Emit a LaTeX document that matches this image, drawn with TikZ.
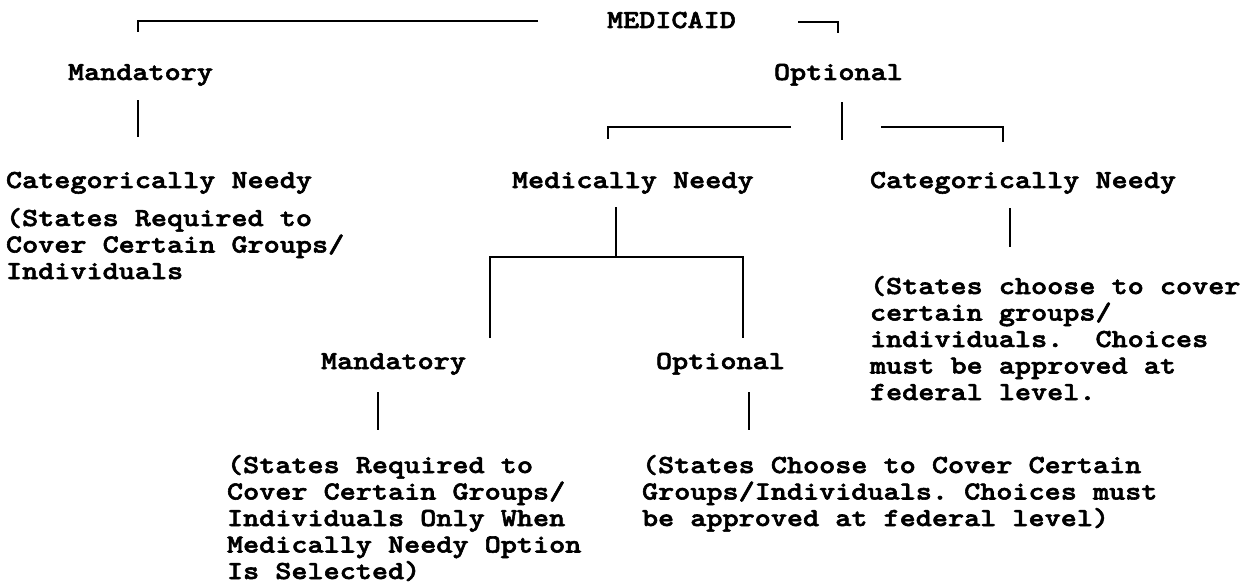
\documentclass[tikz,border=0pt]{standalone}
\usepackage{fontspec}
\newfontfamily\courfont[FakeStretch=1.18,FakeBold=2.2]{lmmonolt10-bold.otf}
\frenchspacing
\tikzset{
  lbl/.style={anchor=base west, inner sep=0pt, outer sep=0pt,
    font=\courfont\fontsize{26pt}{26.5pt}\selectfont},
  conn/.style={line width=2.2pt, line cap=butt, line join=miter},
}
\begin{document}
\begin{tikzpicture}[x=1pt,y=-1pt]
\fill[white] (0,0) rectangle (1253,586);
\useasboundingbox (0,0) rectangle (1253,586);

% text nodes
\node[lbl] (medicaid) at (607,28) {MEDICAID};
\node[lbl] (mand1) at (68,80) {Mandatory};
\node[lbl] (opt1) at (774,80) {Optional};
\node[lbl] (catL) at (6,188) {Categorically Needy};
\node[lbl] (medN) at (512,188) {Medically Needy};
\node[lbl] (catR) at (870,188) {Categorically Needy};
\node[lbl] (reqL) at (6,226) {\vtop{\hbox{(States Required to}\hbox{Cover Certain Groups/}\hbox{Individuals}}};
\node[lbl] (choR) at (870,294) {\vtop{\hbox{(States choose to cover}\hbox{certain groups/}\hbox{individuals.\ \ Choices}\hbox{must be approved at}\hbox{federal level.}}};
\node[lbl] (mand2) at (321,369) {Mandatory};
\node[lbl] (opt2) at (656,369) {Optional};
\node[lbl] (reqM) at (227,473) {\vtop{\hbox{(States Required to}\hbox{Cover Certain Groups/}\hbox{Individuals Only When}\hbox{Medically Needy Option}\hbox{Is Selected)}}};
\node[lbl] (choM) at (642,473) {\vtop{\hbox{(States Choose to Cover Certain}\hbox{Groups/Individuals. Choices must}\hbox{be approved at federal level)}}};

% connector end points
\coordinate (tA) at (538,21);
\coordinate (tB) at (138,32);
\coordinate (tC) at (798,22);
\coordinate (tD) at (838,33);
\coordinate (m1a) at (138,100);
\coordinate (m1b) at (138,137);
\coordinate (o1a) at (842,102);
\coordinate (o1b) at (842,140);
\coordinate (oL1) at (791,127);
\coordinate (oL2) at (608,139);
\coordinate (oR1) at (881,127);
\coordinate (oR2) at (1003,142);
\coordinate (mn1) at (616,207);
\coordinate (mn2) at (616,257);
\coordinate (sL) at (490,338);
\coordinate (sR) at (743,338);
\coordinate (cr1) at (1010,208);
\coordinate (cr2) at (1010,247);
\coordinate (m2a) at (378,392);
\coordinate (m2b) at (378,430);
\coordinate (o2a) at (749,392);
\coordinate (o2b) at (749,430);

% connectors
\draw[conn] (tA) -| (tB);
\draw[conn] (tC) -| (tD);
\draw[conn] (m1a) -- (m1b);
\draw[conn] (o1a) -- (o1b);
\draw[conn] (oL1) -| (oL2);
\draw[conn] (oR1) -| (oR2);
\draw[conn] (mn1) -- (mn2);
\draw[conn] (sL) |- (mn2) -| (sR);
\draw[conn] (cr1) -- (cr2);
\draw[conn] (m2a) -- (m2b);
\draw[conn] (o2a) -- (o2b);
\end{tikzpicture}
\end{document}
